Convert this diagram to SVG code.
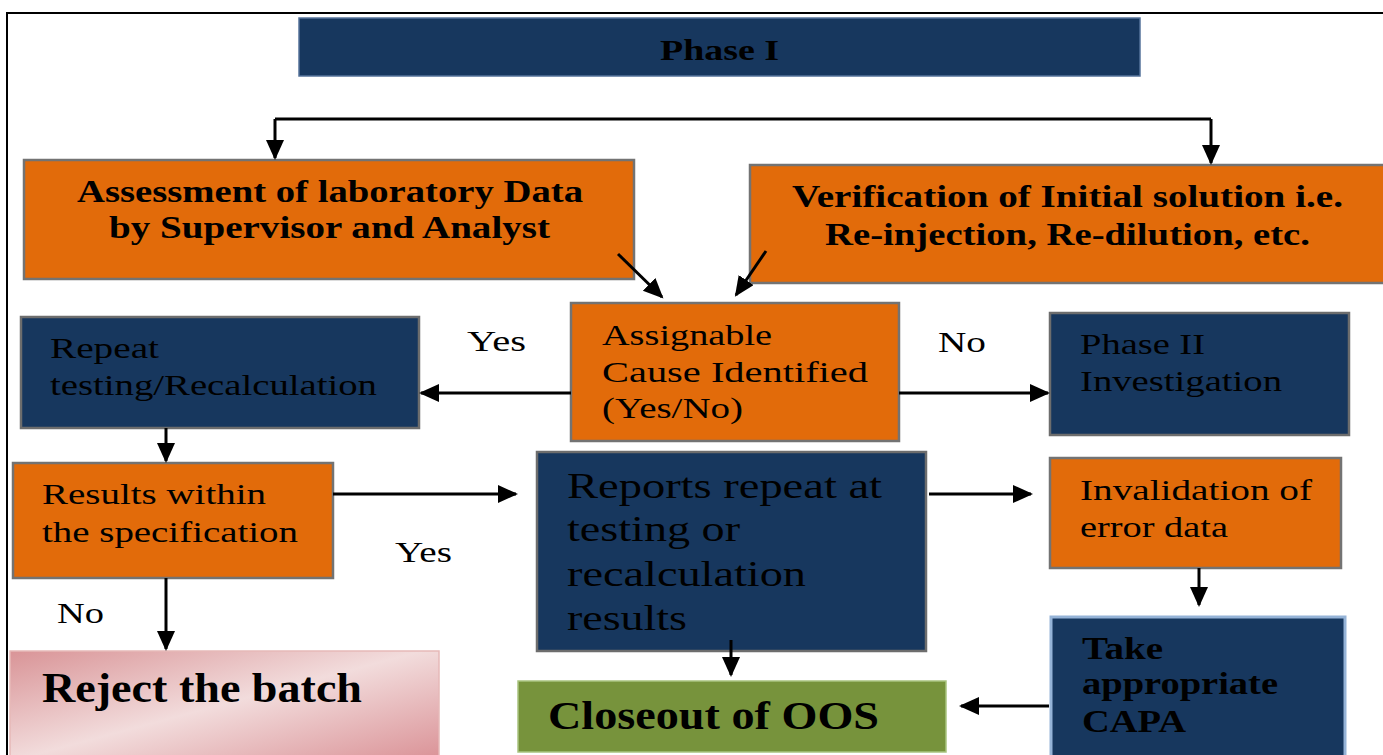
<svg xmlns="http://www.w3.org/2000/svg" width="1383" height="755" viewBox="0 0 1383 755">
  <style>
    .t { font-family: "Liberation Serif", "Times New Roman", serif; fill: #000; }
    .b { font-weight: bold; }
    .navy { fill: #17375e; stroke: #6d6d6d; stroke-width: 2.5; }
    .orange { fill: #e26b0a; stroke: #737373; stroke-width: 2.5; }
    .wire { stroke: #000; stroke-width: 3; fill: none; }
    .arrow { stroke: #000; stroke-width: 3; fill: none; marker-end: url(#head); }
  </style>
  <defs>
    <marker id="head" markerUnits="userSpaceOnUse" markerWidth="22" markerHeight="20" refX="18" refY="9" orient="auto">
      <path d="M0,0 L20,9 L0,18 Z" fill="#000"/>
    </marker>
    <linearGradient id="pink" x1="0" y1="0" x2="1" y2="1">
      <stop offset="0" stop-color="#d99497"/>
      <stop offset="0.48" stop-color="#f2dcdc"/>
      <stop offset="1" stop-color="#d98e93"/>
    </linearGradient>
  </defs>

  <rect width="1383" height="755" fill="#fff"/>

  <!-- outer frame -->
  <path d="M7,755 V13 H1383" stroke="#000" stroke-width="2" fill="none"/>

  <g id="phase1">
    <rect x="299" y="18" width="841" height="58" fill="#17375e" stroke="#55739b" stroke-width="1.5"/>
    <text class="t b" x="660" y="60" font-size="30" textLength="119" lengthAdjust="spacingAndGlyphs">Phase I</text>
  </g>

  <g id="assessment">
    <rect class="orange" x="24" y="160" width="610" height="119"/>
    <text class="t b" x="77" y="202" font-size="31" textLength="506" lengthAdjust="spacingAndGlyphs">Assessment of laboratory Data</text>
    <text class="t b" x="109" y="238" font-size="31" textLength="441" lengthAdjust="spacingAndGlyphs">by Supervisor and Analyst</text>
  </g>

  <g id="verification">
    <rect class="orange" x="750" y="165" width="640" height="118"/>
    <text class="t b" x="792" y="207" font-size="31" textLength="551" lengthAdjust="spacingAndGlyphs">Verification of Initial solution i.e.</text>
    <text class="t b" x="825" y="245" font-size="31" textLength="485" lengthAdjust="spacingAndGlyphs">Re-injection, Re-dilution, etc.</text>
  </g>

  <g id="assignable">
    <rect class="orange" x="571" y="303" width="328" height="138"/>
    <text class="t" x="602" y="345" font-size="30" textLength="170" lengthAdjust="spacingAndGlyphs">Assignable</text>
    <text class="t" x="602" y="382" font-size="30" textLength="266" lengthAdjust="spacingAndGlyphs">Cause   Identified</text>
    <text class="t" x="602" y="418" font-size="30" textLength="141" lengthAdjust="spacingAndGlyphs">(Yes/No)</text>
  </g>

  <g id="repeat">
    <rect class="navy" x="21" y="317" width="398" height="111"/>
    <text class="t" x="50" y="358" font-size="30" textLength="109" lengthAdjust="spacingAndGlyphs">Repeat</text>
    <text class="t" x="50" y="395" font-size="30" textLength="327" lengthAdjust="spacingAndGlyphs">testing/Recalculation</text>
  </g>

  <g id="phase2">
    <rect class="navy" x="1050" y="313" width="299" height="122"/>
    <text class="t" x="1080" y="354" font-size="30" textLength="125" lengthAdjust="spacingAndGlyphs">Phase II</text>
    <text class="t" x="1080" y="391" font-size="30" textLength="202" lengthAdjust="spacingAndGlyphs">Investigation</text>
  </g>

  <g id="results">
    <rect class="orange" x="13" y="463" width="320" height="115"/>
    <text class="t" x="42" y="504" font-size="30" textLength="224" lengthAdjust="spacingAndGlyphs">Results within</text>
    <text class="t" x="42" y="542" font-size="30" textLength="256" lengthAdjust="spacingAndGlyphs">the specification</text>
  </g>

  <g id="reports">
    <rect class="navy" x="537" y="452" width="389" height="199"/>
    <text class="t" x="567" y="498" font-size="36" textLength="315" lengthAdjust="spacingAndGlyphs">Reports repeat at</text>
    <text class="t" x="567" y="541" font-size="36" textLength="173" lengthAdjust="spacingAndGlyphs">testing or</text>
    <text class="t" x="567" y="586" font-size="36" textLength="239" lengthAdjust="spacingAndGlyphs">recalculation</text>
    <text class="t" x="567" y="630" font-size="36" textLength="120" lengthAdjust="spacingAndGlyphs">results</text>
  </g>

  <g id="invalidation">
    <rect class="orange" x="1050" y="458" width="291" height="110"/>
    <text class="t" x="1080" y="500" font-size="30" textLength="232" lengthAdjust="spacingAndGlyphs">Invalidation of</text>
    <text class="t" x="1080" y="537" font-size="30" textLength="148" lengthAdjust="spacingAndGlyphs">error data</text>
  </g>

  <g id="capa">
    <rect x="1051" y="617" width="294" height="150" fill="#17375e" stroke="#95b3d7" stroke-width="3"/>
    <text class="t b" x="1082" y="659" font-size="31" textLength="81" lengthAdjust="spacingAndGlyphs">Take</text>
    <text class="t b" x="1082" y="694" font-size="31" textLength="196" lengthAdjust="spacingAndGlyphs">appropriate</text>
    <text class="t b" x="1082" y="732" font-size="31" textLength="104" lengthAdjust="spacingAndGlyphs">CAPA</text>
  </g>

  <g id="reject">
    <rect x="10" y="651" width="429" height="115" fill="url(#pink)" stroke="#e6b9b8" stroke-width="1.5"/>
    <text class="t b" x="42" y="702" font-size="42" textLength="320" lengthAdjust="spacingAndGlyphs">Reject the batch</text>
  </g>

  <g id="closeout">
    <rect x="518" y="681" width="428" height="71" fill="#77933c" stroke="#a9c47f" stroke-width="1.5"/>
    <text class="t b" x="548" y="729" font-size="40" textLength="331" lengthAdjust="spacingAndGlyphs">Closeout of OOS</text>
  </g>

  <g id="labels">
    <text class="t" x="467" y="351" font-size="30" textLength="59" lengthAdjust="spacingAndGlyphs">Yes</text>
    <text class="t" x="938" y="352" font-size="30" textLength="48" lengthAdjust="spacingAndGlyphs">No</text>
    <text class="t" x="395" y="562" font-size="30" textLength="57" lengthAdjust="spacingAndGlyphs">Yes</text>
    <text class="t" x="57" y="623" font-size="30" textLength="47" lengthAdjust="spacingAndGlyphs">No</text>
  </g>

  <g id="connectors">
    <path class="wire" d="M275,119 H1211"/>
    <path class="arrow" d="M275,119 V158"/>
    <path class="arrow" d="M1211,119 V163"/>
    <path class="arrow" d="M618,254 L662,297"/>
    <path class="arrow" d="M766,251 L736,295"/>
    <path class="arrow" d="M571,393 H421"/>
    <path class="arrow" d="M899,393 H1048"/>
    <path class="arrow" d="M166,428 V461"/>
    <path class="arrow" d="M333,494 H516"/>
    <path class="arrow" d="M166,578 V649"/>
    <path class="arrow" d="M929,494 H1031"/>
    <path class="arrow" d="M1199,568 V605"/>
    <path class="arrow" d="M731,640 V675"/>
    <path class="arrow" d="M1049,706 H961"/>
  </g>
</svg>
